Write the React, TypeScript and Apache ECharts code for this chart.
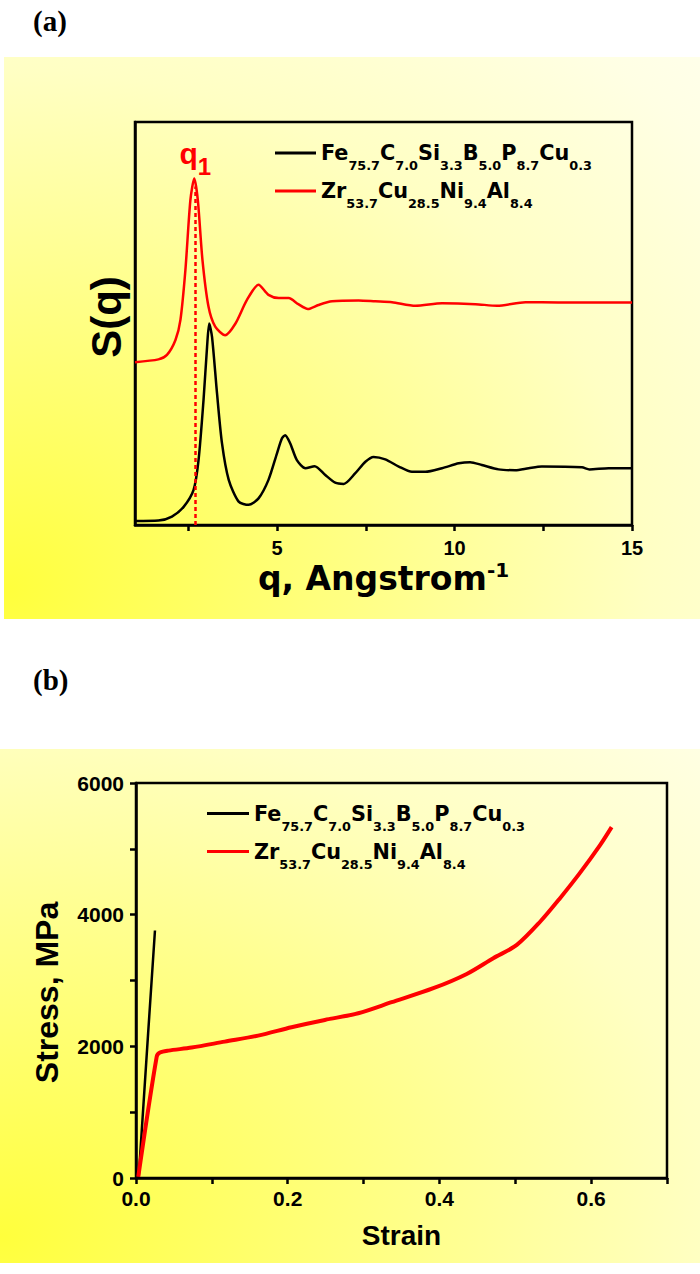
import React, { useEffect, useRef } from 'react';
import * as echarts from 'echarts';

// ---------- Panel (a): structure factor S(q) ----------
const qBlack = [1.0, 1.66, 2.04, 2.37, 2.65, 2.79, 2.93, 3.03, 3.09, 3.17, 3.31, 3.45, 3.64, 3.92, 4.2, 4.48, 4.76, 5.0, 5.14, 5.23, 5.37, 5.56, 5.8, 6.06, 6.36, 6.64, 6.88, 7.2, 7.49, 7.72, 8.05, 8.43, 8.8, 9.18, 9.65, 10.12, 10.44, 10.77, 11.24, 11.71, 12.09, 12.46, 13.59, 13.8, 14.34, 15.0];
const sBlack = [1.0, 1.1, 2.1, 4.5, 8.7, 16.1, 31.0, 44.2, 50.0, 46.7, 32.7, 20.3, 11.2, 5.8, 5.0, 6.6, 11.2, 17.8, 21.5, 22.3, 20.3, 16.1, 14.1, 14.6, 12.4, 10.5, 10.2, 12.8, 15.7, 16.9, 16.3, 14.5, 13.2, 13.2, 14.1, 15.3, 15.6, 14.9, 13.8, 13.6, 14.1, 14.5, 14.3, 13.8, 14.1, 14.1];

const qRed = [1.0, 1.66, 1.9, 2.14, 2.28, 2.42, 2.56, 2.67, 2.77, 2.9, 3.07, 3.26, 3.54, 3.83, 4.15, 4.48, 4.76, 5.05, 5.33, 5.6, 5.87, 6.17, 6.55, 7.3, 7.77, 8.24, 8.9, 9.65, 10.59, 11.2, 12.0, 12.92, 13.86, 15.0];
const sRed = [40.4, 41.1, 42.2, 45.9, 50.9, 63.3, 80.6, 86.0, 80.6, 65.8, 54.2, 49.2, 47.1, 50.0, 55.8, 59.6, 57.1, 56.3, 56.3, 54.8, 53.6, 54.6, 55.5, 55.7, 55.5, 55.3, 54.4, 55.0, 54.8, 54.4, 55.3, 55.2, 55.2, 55.2];

const Q1 = 2.7;
const Q1_TOP = 84;
const qLabelValues = [5, 10, 15];
const qTickValues = [2.5, 5, 7.5, 10, 12.5, 15];

// ---------- Panel (b): stress-strain ----------
const feStrain = [0.0035, 0.016, 0.025];
const feStress = [0, 2200, 3760];

const zrStrain = [0.003, 0.0273, 0.0316, 0.0426, 0.0734, 0.117, 0.161, 0.205, 0.249, 0.293, 0.337, 0.392, 0.436, 0.471, 0.502, 0.533, 0.559, 0.585, 0.612, 0.627];
const zrStress = [20, 1844, 1905, 1935, 1981, 2072, 2163, 2290, 2401, 2503, 2670, 2883, 3100, 3339, 3541, 3896, 4251, 4631, 5061, 5330];

// ---------- names ----------
const FE_NAME = 'Fe75.7C7.0Si3.3B5.0P8.7Cu0.3';
const ZR_NAME = 'Zr53.7Cu28.5Ni9.4Al8.4';
const feParts = [['Fe', '75.7'], ['C', '7.0'], ['Si', '3.3'], ['B', '5.0'], ['P', '8.7'], ['Cu', '0.3']];
const zrParts = [['Zr', '53.7'], ['Cu', '28.5'], ['Ni', '9.4'], ['Al', '8.4']];

const zip = (xs: number[], ys: number[]) => xs.map((x, i) => [x, ys[i]]);

const SANS = '"Liberation Sans", Arial, sans-serif';
const WIDE = '"DejaVu Sans", sans-serif';

const legendRich = {
  m: { fontFamily: WIDE, fontWeight: 'bold', fontSize: 20.8, lineHeight: 22, color: '#000' },
  s: { fontFamily: WIDE, fontWeight: 'bold', fontSize: 12.8, lineHeight: 22, color: '#000', padding: [25, 0, 0, 0] },
};

const legendFormatter = (name: string) => {
  const parts = name === FE_NAME ? feParts : zrParts;
  return parts.map(([e, n]) => `{m|${e}}{s|${n}}`).join('');
};

const axisLineStyle = { color: '#000', width: 2.5 };

function buildOption(): any {
  const bgStops = [
    { offset: 0, color: '#ffff3c' },
    { offset: 0.33, color: '#ffff88' },
    { offset: 0.58, color: '#ffffc4' },
    { offset: 0.8, color: '#ffffe4' },
    { offset: 1, color: '#fffff6' },
  ];
  return {
    animation: false,
    backgroundColor: '#ffffff',
    graphic: [
      {
        type: 'rect', z: -10, silent: true,
        shape: { x: 4, y: 57, width: 696, height: 562 },
        style: { fill: new echarts.graphic.RadialGradient(0, 0.95, 1.6, bgStops) },
      },
      {
        type: 'rect', z: -10, silent: true,
        shape: { x: 0, y: 749, width: 700, height: 514 },
        style: { fill: new echarts.graphic.RadialGradient(0, 0.95, 1.75, bgStops) },
      },
      {
        type: 'text', x: 33, y: 21,
        style: { text: '(a)', fontFamily: '"Liberation Serif", serif', fontWeight: 'bold', fontSize: 29, fill: '#000', verticalAlign: 'middle', align: 'left' },
      },
      {
        type: 'text', x: 33, y: 680,
        style: { text: '(b)', fontFamily: '"Liberation Serif", serif', fontWeight: 'bold', fontSize: 29, fill: '#000', verticalAlign: 'middle', align: 'left' },
      },
    ],
    grid: [
      { left: 135, top: 122, width: 497, height: 403, show: true, borderColor: '#000', borderWidth: 2.5, backgroundColor: 'transparent' },
      { left: 136, top: 783, width: 531, height: 395, show: true, borderColor: '#000', borderWidth: 2.5, backgroundColor: 'transparent' },
    ],
    legend: [
      {
        data: [FE_NAME, ZR_NAME], orient: 'vertical', left: 275, top: 134, padding: 0,
        itemWidth: 41, itemHeight: 3, itemGap: 0, icon: 'rect', selectedMode: false,
        formatter: legendFormatter, textStyle: { rich: legendRich },
      },
      {
        data: [FE_NAME, ZR_NAME], orient: 'vertical', left: 207, top: 794.5, padding: 0,
        itemWidth: 42, itemHeight: 3, itemGap: 0, icon: 'rect', selectedMode: false,
        formatter: legendFormatter, textStyle: { rich: legendRich },
      },
    ],
    xAxis: [
      {
        gridIndex: 0, type: 'value', min: 1, max: 15,
        axisLine: { lineStyle: axisLineStyle },
        axisTick: { show: true, customValues: qTickValues, length: 6, inside: false, lineStyle: axisLineStyle },
        axisLabel: { customValues: qLabelValues, margin: 13, fontFamily: SANS, fontWeight: 'bold', fontSize: 20, color: '#000' },
        splitLine: { show: false },
        name: '{a|q, Angstrom}{sup|-1}', nameLocation: 'middle', nameGap: 37,
        nameTextStyle: {
          rich: {
            a: { fontFamily: WIDE, fontWeight: 'bold', fontSize: 33, lineHeight: 33, color: '#000' },
            sup: { fontFamily: WIDE, fontWeight: 'bold', fontSize: 20, lineHeight: 33, color: '#000', padding: [0, 0, 18, 0] },
          },
        },
      },
      {
        gridIndex: 1, type: 'value', min: 0, max: 0.7, interval: 0.1,
        axisLine: { lineStyle: axisLineStyle },
        axisTick: { show: true, length: 6, inside: false, lineStyle: axisLineStyle },
        axisLabel: {
          margin: 10, fontFamily: SANS, fontWeight: 'bold', fontSize: 21, color: '#000',
          formatter: (v: number) => (Math.round(v * 10) % 2 === 0 && Math.round(v * 10) < 7 ? v.toFixed(1) : ''),
        },
        splitLine: { show: false },
        name: 'Strain', nameLocation: 'middle', nameGap: 43,
        nameTextStyle: { fontFamily: SANS, fontWeight: 'bold', fontSize: 28, lineHeight: 28, color: '#000' },
      },
    ],
    yAxis: [
      {
        gridIndex: 0, type: 'value', min: 0, max: 100,
        axisLine: { show: true, lineStyle: axisLineStyle },
        axisTick: { show: false },
        axisLabel: { show: false },
        splitLine: { show: false },
        name: 'S(q)', nameLocation: 'middle', nameRotate: 90, nameGap: 8,
        nameTextStyle: { fontFamily: SANS, fontWeight: 'bold', fontSize: 42, lineHeight: 42, color: '#000', padding: [0, 0, 0, 13] },
      },
      {
        gridIndex: 1, type: 'value', min: 0, max: 6000, interval: 1000,
        axisLine: { show: true, lineStyle: axisLineStyle },
        axisTick: { show: true, length: 6, inside: false, lineStyle: axisLineStyle },
        axisLabel: {
          margin: 12, fontFamily: SANS, fontWeight: 'bold', fontSize: 21, color: '#000',
          formatter: (v: number) => (v % 2000 === 0 ? String(v) : ''),
        },
        splitLine: { show: false },
        name: 'Stress, MPa', nameLocation: 'middle', nameRotate: 90, nameGap: 73,
        nameTextStyle: { fontFamily: SANS, fontWeight: 'bold', fontSize: 32, lineHeight: 32, color: '#000', padding: [0, 24, 0, 0] },
      },
    ],
    series: [
      {
        type: 'line', name: FE_NAME, xAxisIndex: 0, yAxisIndex: 0,
        data: zip(qBlack, sBlack), showSymbol: false, symbol: 'none',
        smooth: 0.25,
        itemStyle: { color: '#000' }, lineStyle: { color: '#000', width: 2.5 },
      },
      {
        type: 'line', name: ZR_NAME, xAxisIndex: 0, yAxisIndex: 0,
        data: zip(qRed, sRed), showSymbol: false, symbol: 'none',
        smooth: 0.25,
        itemStyle: { color: '#ff0000' }, lineStyle: { color: '#ff0000', width: 2.5 },
        markLine: {
          silent: true, symbol: ['none', 'none'], animation: false,
          lineStyle: { color: '#ff0000', type: [4, 3], width: 2.5 },
          label: {
            show: true, position: 'end', distance: 18, formatter: '{q|q}{s|1}',
            rich: {
              q: { fontFamily: SANS, fontWeight: 'bold', fontSize: 30, lineHeight: 30, color: '#ff0000' },
              s: { fontFamily: SANS, fontWeight: 'bold', fontSize: 24, lineHeight: 30, color: '#ff0000', padding: [26, 0, 0, 0] },
            },
          },
          data: [[{ coord: [Q1, 0] }, { coord: [Q1, Q1_TOP] }]],
        },
      },
      {
        type: 'line', name: FE_NAME, xAxisIndex: 1, yAxisIndex: 1,
        data: zip(feStrain, feStress), showSymbol: false, symbol: 'none',
        itemStyle: { color: '#000' }, lineStyle: { color: '#000', width: 2.5 },
      },
      {
        type: 'line', name: ZR_NAME, xAxisIndex: 1, yAxisIndex: 1,
        data: zip(zrStrain, zrStress), showSymbol: false, symbol: 'none',
        smooth: 0.3,
        itemStyle: { color: '#ff0000' }, lineStyle: { color: '#ff0000', width: 4 },
      },
    ],
  };
}

export default function App() {
  const ref = useRef<HTMLDivElement>(null);
  useEffect(() => {
    document.body.style.margin = '0';
    const chart = echarts.init(ref.current as HTMLDivElement, null, { renderer: 'svg', width: 700, height: 1274 });
    chart.setOption(buildOption());
    return () => chart.dispose();
  }, []);
  return <div ref={ref} style={{ width: 700, height: 1274 }} />;
}
